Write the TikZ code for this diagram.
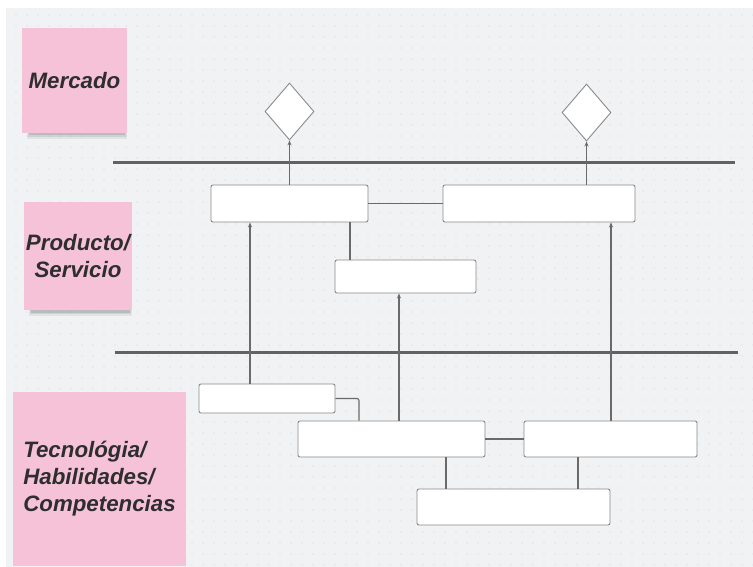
\documentclass[tikz,border=0pt]{standalone}
\usepackage{fontspec}
\setmainfont{Liberation Sans}
\usetikzlibrary{shapes.geometric,arrows.meta}
\definecolor{canvas}{HTML}{F1F2F4}
\definecolor{griddot}{HTML}{D6D8DC}
\definecolor{stickypink}{HTML}{F5C2D8}
\definecolor{inktext}{HTML}{2E2E2E}
\definecolor{boxline}{HTML}{8A8A8A}
\definecolor{wire}{HTML}{6A6A6A}
\definecolor{divider}{HTML}{626262}
\tikzset{
  stickynote/.style={fill=stickypink, inner sep=0pt, text=inktext,
    font=\fontsize{22.3}{27}\selectfont\bfseries\itshape},
  whitebox/.style={draw=boxline, fill=white, line width=0.9pt, rounded corners=2pt,
    inner sep=0pt},
  decision/.style={diamond, draw=boxline, fill=white, line width=0.9pt,
    inner sep=0pt, minimum width=49pt, minimum height=57pt, shape aspect=0.86},
  link/.style={draw=wire, line width=1.1pt},
  uplink/.style={link, -{Stealth[length=5pt,width=4pt]}},
  bar/.style={draw=divider, line width=3pt},
  % soft shadow under a sticky note: #1 = left, #2 = right, #3 = bottom edge
  pics/noteshadow/.style args={#1/#2/#3}{code={
    \fill[black, opacity=0.06] (#1,#3) rectangle (#2,#3+6);
    \fill[black, opacity=0.08] (#1+1,#3) rectangle (#2-1,#3+4);
    \fill[black, opacity=0.10] (#1+2,#3) rectangle (#2-2,#3+2.5);
  }},
}
\begin{document}
\begin{tikzpicture}[x=1pt,y=-1pt]
  \useasboundingbox (0,0) rectangle (753,567);
  % canvas with dotted grid
  \fill[canvas] (6,8) rectangle (753,567);
  \foreach \i in {0,...,67} {
    \foreach \j in {0,...,50} {
      \fill[griddot] ({16+11*\i},{15+11*\j}) circle (0.55pt);
    }
  }

  % sticky note shadows
  \pic {noteshadow=27/127/133};
  \pic {noteshadow=29/132/310};

  % sticky notes
  \node[stickynote, minimum width=105pt, minimum height=105pt, align=center]
    (mercado) at (74.5,80.5) {Mercado};
  \node[stickynote, minimum width=108pt, minimum height=108pt, align=center]
    (producto) at (78,256) {Producto/\\Servicio};
  \node[stickynote, minimum width=173pt, minimum height=174pt, align=left]
    (tecno) at (99.5,479) {Tecnológia/\\Habilidades/\\Competencias};

  % layer dividers
  \coordinate (barAleft) at (113,163);
  \coordinate (barAright) at (735,163);
  \coordinate (barBleft) at (115,352);
  \coordinate (barBright) at (738,352);
  \draw[bar] (barAleft) -- (barAright);
  \draw[bar] (barBleft) -- (barBright);

  % decisions
  \node[decision] (d1) at (289.5,111.5) {};
  \node[decision] (d2) at (586.5,112.5) {};

  % boxes
  \node[whitebox, minimum width=157pt, minimum height=37pt] (b1) at (289.5,203.5) {};
  \node[whitebox, minimum width=192pt, minimum height=37pt] (b2) at (539,203.5) {};
  \node[whitebox, minimum width=141pt, minimum height=33pt] (b3) at (405.5,276.5) {};
  \node[whitebox, minimum width=136pt, minimum height=29pt] (b4) at (267,398.5) {};
  \node[whitebox, minimum width=187pt, minimum height=36pt] (b5) at (391.5,439) {};
  \node[whitebox, minimum width=173pt, minimum height=36pt] (b6) at (610.5,439) {};
  \node[whitebox, minimum width=193pt, minimum height=36pt] (b7) at (513.5,507) {};

  % connector columns
  \coordinate (x250) at (250,0);
  \coordinate (x350) at (350,0);
  \coordinate (x359) at (359,0);
  \coordinate (x399) at (399,0);
  \coordinate (x446) at (446,0);
  \coordinate (x578) at (578,0);
  \coordinate (x611) at (611,0);

  % connectors
  \draw[uplink] (b1.north) -- (d1.south);
  \draw[uplink] (d2.south |- b2.north) -- (d2.south);
  \draw[link] (b1.east) -- (b2.west);
  \draw[link] (b1.south -| x350) -- (b3.north -| x350);
  \draw[uplink] (b4.north -| x250) -- (b1.south -| x250);
  \draw[uplink] (b5.north -| x399) -- (b3.south -| x399);
  \draw[uplink] (b6.north -| x611) -- (b2.south -| x611);
  \draw[link, rounded corners=2pt] (b4.east) -| (b5.north -| x359);
  \draw[link] (b5.east) -- (b6.west);
  \draw[link] (b5.south -| x446) -- (b7.north -| x446);
  \draw[link] (b6.south -| x578) -- (b7.north -| x578);
\end{tikzpicture}
\end{document}
